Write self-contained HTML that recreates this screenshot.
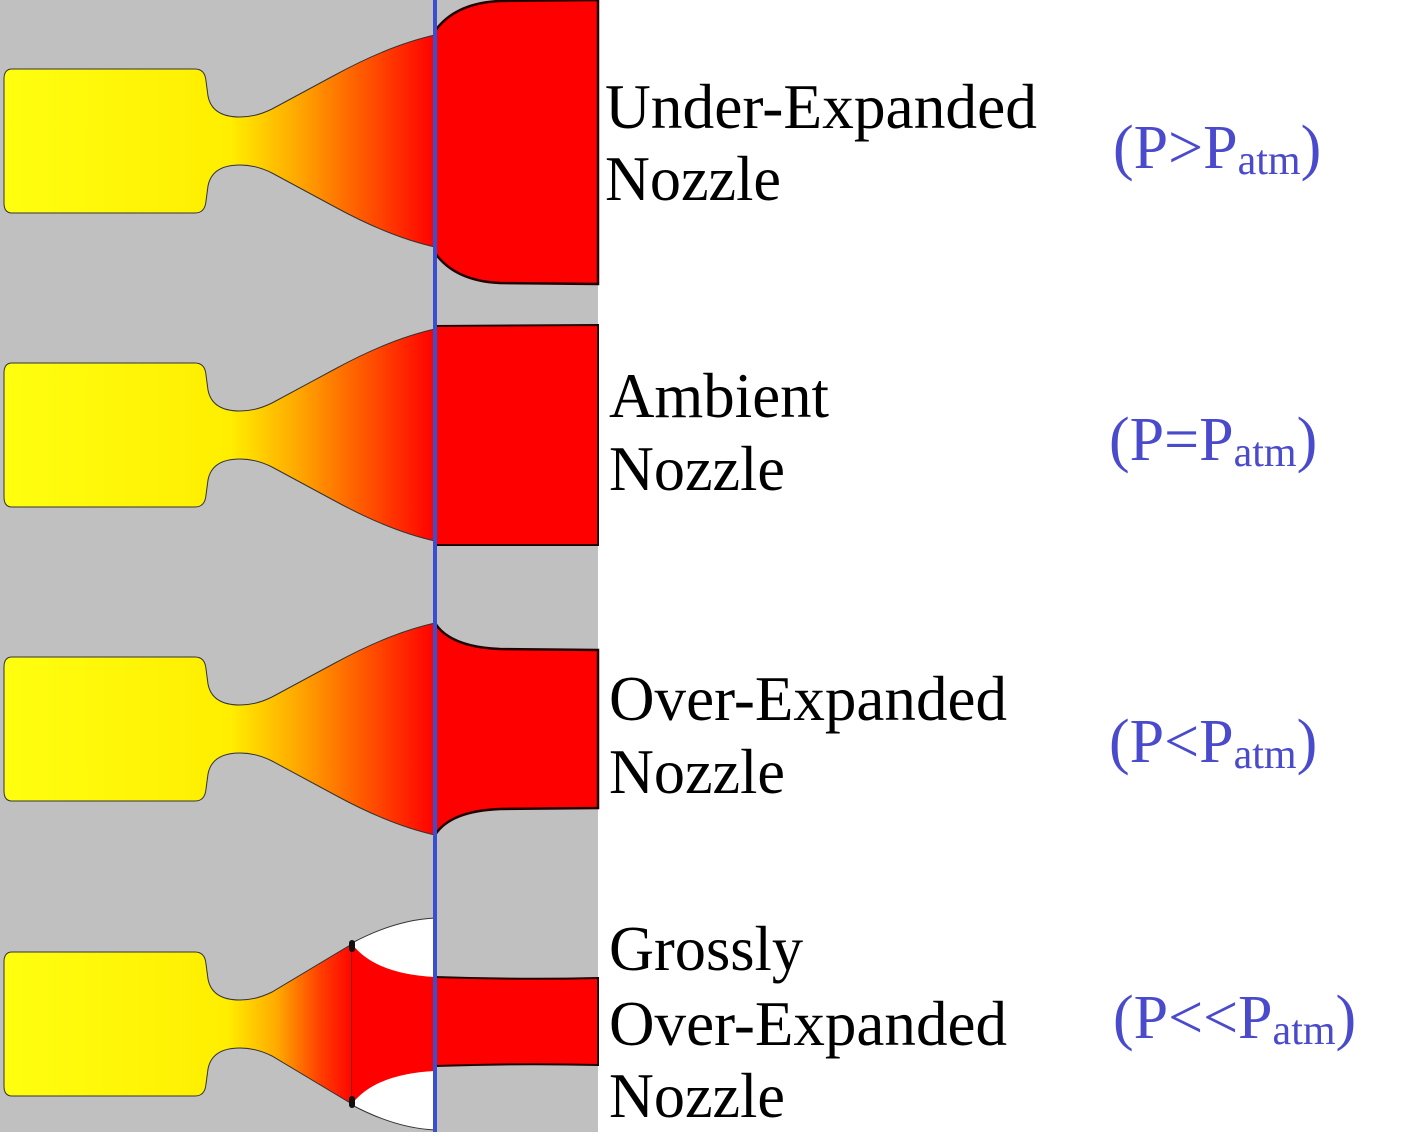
<!DOCTYPE html>
<html><head><meta charset="utf-8"><style>
html,body{margin:0;padding:0;background:#fff;width:1404px;height:1132px;overflow:hidden}
svg{display:block}
text{font-family:"Liberation Serif",serif}
</style></head><body>
<svg width="1404" height="1132" viewBox="0 0 1404 1132" xmlns="http://www.w3.org/2000/svg">
<defs>
<linearGradient id="g" gradientUnits="userSpaceOnUse" x1="0" y1="0" x2="435" y2="0">
<stop offset="0" stop-color="#ffff10"/>
<stop offset="0.53" stop-color="#ffee00"/>
<stop offset="0.68" stop-color="#ffaa00"/>
<stop offset="0.85" stop-color="#ff5000"/>
<stop offset="1" stop-color="#ff0000"/>
</linearGradient>
<linearGradient id="g4" gradientUnits="userSpaceOnUse" x1="0" y1="0" x2="355" y2="0">
<stop offset="0" stop-color="#ffff10"/>
<stop offset="0.64" stop-color="#ffee00"/>
<stop offset="0.78" stop-color="#ffaa00"/>
<stop offset="0.9" stop-color="#ff4000"/>
<stop offset="1" stop-color="#ff0000"/>
</linearGradient>
<path id="noz" d="M12,-72 L195,-72 Q205,-72 206,-60 L208,-45 Q212,-24 240,-24 Q256,-24 272,-32 L335,-66 Q390,-96 435,-106 L435,106 Q390,96 335,66 L272,32 Q256,24 240,24 Q212,24 208,45 L206,60 Q205,72 195,72 L12,72 Q4,72 4,62 L4,-62 Q4,-72 12,-72 Z"/>
</defs>
<rect x="0" y="0" width="598" height="1132" fill="#c0c0c0"/>

<g transform="translate(0,141)">
<use href="#noz" fill="url(#g)" stroke="#333" stroke-width="1"/>
<path d="M435,-110 Q455,-138 500,-140 L598,-141 L598,143 L500,142 Q455,140 435,112 Z" fill="#ff0000" stroke="#200" stroke-width="2.5"/>
</g>
<g transform="translate(0,435)">
<use href="#noz" fill="url(#g)" stroke="#333" stroke-width="1"/>
<path d="M435,-109 L598,-110 L598,110 L435,110 Z" fill="#ff0000" stroke="#200" stroke-width="2"/>
</g>
<g transform="translate(0,729)">
<use href="#noz" fill="url(#g)" stroke="#333" stroke-width="1"/>
<path d="M435,-106 Q450,-82 500,-80 L598,-79 L598,79 L500,80 Q450,82 435,106 Z" fill="#ff0000" stroke="#200" stroke-width="2.5"/>
</g>
<g transform="translate(0,1024)">
<path d="M12,-72 L195,-72 Q205,-72 206,-60 L208,-45 Q212,-24 240,-24 Q256,-24 272,-32 L352,-80 L352,80 L272,32 Q256,24 240,24 Q212,24 208,45 L206,60 Q205,72 195,72 L12,72 Q4,72 4,62 L4,-62 Q4,-72 12,-72 Z" fill="url(#g4)" stroke="#333" stroke-width="1"/>
<path d="M352,-81 Q395,-104 435,-106 L435,106 Q395,104 352,81 Z" fill="#fff" stroke="#333" stroke-width="1"/>
<path d="M352,-80 Q375,-50 435,-47 L435,47 Q375,50 352,80 Z" fill="#ff0000"/>
<path d="M435,-47 Q520,-44 598,-46 L598,41 Q520,39 435,42 Z" fill="#ff0000" stroke="#200" stroke-width="2"/>
<rect x="349" y="-84" width="6" height="12" rx="3" fill="#111"/>
<rect x="349" y="72" width="6" height="12" rx="3" fill="#111"/>
</g>

<rect x="433" y="0" width="4" height="1132" fill="#3a4fd0"/>

<g font-size="64" fill="#000">
<text x="605" y="128" textLength="432" lengthAdjust="spacingAndGlyphs">Under-Expanded</text>
<text x="605" y="200" textLength="176" lengthAdjust="spacingAndGlyphs">Nozzle</text>
<text x="609" y="417" textLength="220" lengthAdjust="spacingAndGlyphs">Ambient</text>
<text x="609" y="490" textLength="176" lengthAdjust="spacingAndGlyphs">Nozzle</text>
<text x="609" y="720" textLength="398" lengthAdjust="spacingAndGlyphs">Over-Expanded</text>
<text x="609" y="793" textLength="176" lengthAdjust="spacingAndGlyphs">Nozzle</text>
<text x="609" y="970" textLength="194" lengthAdjust="spacingAndGlyphs">Grossly</text>
<text x="609" y="1045" textLength="398" lengthAdjust="spacingAndGlyphs">Over-Expanded</text>
<text x="609" y="1117" textLength="176" lengthAdjust="spacingAndGlyphs">Nozzle</text>
</g>
<g font-size="62" fill="#4a4acc">
<text x="1113" y="168">(P&gt;P<tspan font-size="42" dy="6">atm</tspan><tspan dy="-6">)</tspan></text>
<text x="1109" y="460">(P=P<tspan font-size="42" dy="6">atm</tspan><tspan dy="-6">)</tspan></text>
<text x="1109" y="762">(P&lt;P<tspan font-size="42" dy="6">atm</tspan><tspan dy="-6">)</tspan></text>
<text x="1113" y="1038">(P&lt;&lt;P<tspan font-size="42" dy="6">atm</tspan><tspan dy="-6">)</tspan></text>
</g>
</svg>
</body></html>
